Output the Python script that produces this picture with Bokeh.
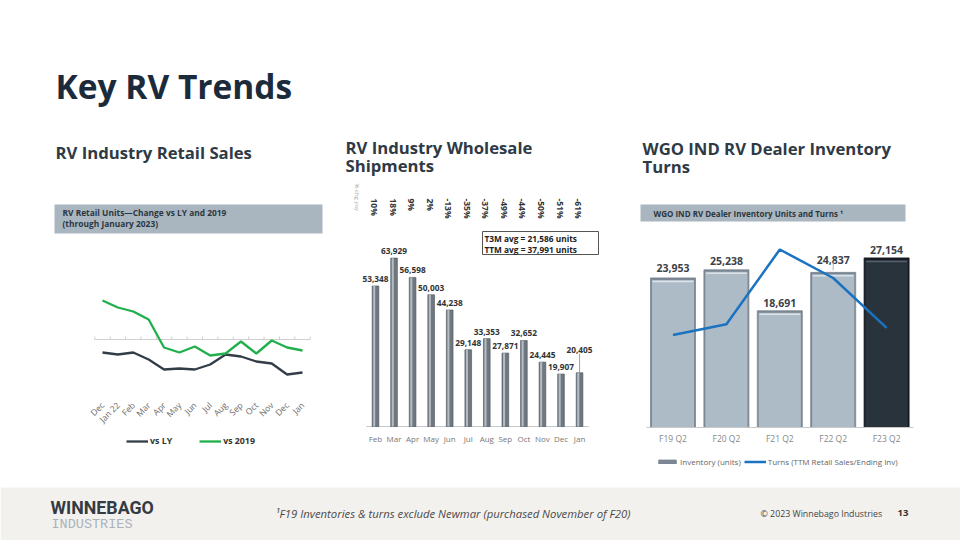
import math
from bokeh.plotting import figure
from bokeh.models import Range1d, FixedTicker, Legend, LegendItem, ColumnDataSource, LinearAxis
from bokeh.core.properties import value
from bokeh.embed import file_html
from bokeh.resources import INLINE
from bokeh.transform import dodge

FONT = "Open Sans"

# ---------------- data ----------------
retail_months = ["Dec", "Jan 22", "Feb", "Mar", "Apr", "May", "Jun", "Jul", "Aug", "Sep", "Oct", "Nov", "Dec", "Jan"]
retail_vs_ly = [-13, -15, -13, -20, -30, -29, -30, -25, -15, -17, -22, -24, -35, -33]
retail_vs_2019 = [39, 32, 28, 20, -8, -13, -7, -16, -14, -2, -14, -1, -8, -11]

ship_months = ["Feb", "Mar", "Apr", "May", "Jun", "Jul", "Aug", "Sep", "Oct", "Nov", "Dec", "Jan"]
ship_units = [53348, 63929, 56598, 50003, 44238, 29148, 33353, 27871, 32652, 24445, 19907, 20405]
ship_pct_yoy = ["10%", "18%", "9%", "2%", "-13%", "-35%", "-37%", "-49%", "-44%", "-50%", "-51%", "-61%"]
ship_t3m_avg = 21586
ship_ttm_avg = 37991

inv_quarters = ["F19 Q2", "F20 Q2", "F21 Q2", "F22 Q2", "F23 Q2"]
inv_units = [23953, 25238, 18691, 24837, 27154]
inv_turns = [2.6, 2.9, 5.0, 4.2, 2.8]

# label placement (pixels, layout only)
ship_label_dy = [-4, -4, -4, -4, -4, -4, -4, -4, -4, -4, -4, -20]
inv_label_dy = [-6, -4.5, -3.5, -8.5, -4]

W, H = 960, 540
p = figure(width=W, height=H, x_range=Range1d(0, W), y_range=Range1d(H, 0),
           x_axis_type=None, y_axis_type=None, output_backend="svg", toolbar_location=None,
           min_border_left=0, min_border_right=0, min_border_top=0, min_border_bottom=0)
p.grid.grid_line_color = None
p.outline_line_color = None
p.background_fill_color = "white"
p.border_fill_color = "white"

# chart scales (pixel anchors -> data ranges)
C1_X0, C1_DX, C1_Y0 = 102, 15.385, 339          # retail chart: index 0 at x=102, zero line at y=339, 1px per %
C2_X0, C2_DX, C2_Y0, K2 = 375, 18.55, 426, 168.4 / 63929
C3_X0, C3_DX, C3_Y0, K3 = 672.5, 53.4, 427, 169.6 / 27154
KT = 35.6
p.extra_x_ranges = {
    "c1x": Range1d((0 - C1_X0) / C1_DX, (W - C1_X0) / C1_DX),
    "c2x": Range1d((0 - C2_X0) / C2_DX, (W - C2_X0) / C2_DX),
    "c3x": Range1d((0 - C3_X0) / C3_DX, (W - C3_X0) / C3_DX),
}
p.extra_y_ranges = {
    "c1y": Range1d(C1_Y0 - H, C1_Y0),
    "c2y": Range1d((C2_Y0 - H) / K2, C2_Y0 / K2),
    "c3y": Range1d((C3_Y0 - H) / K3, C3_Y0 / K3),
    "turns": Range1d((C3_Y0 - H) / KT, C3_Y0 / KT),
}


def txt(x, y, t, size, color="#333", style="normal", align="left", baseline="middle", font=FONT, **kw):
    p.text(x=x, y=y, text=t, text_font=value(font), text_font_size=size, text_font_style=style,
           text_color=color, text_align=align, text_baseline=baseline, **kw)


def cat_axis(rng, labels, loc, size, color, standoff, orient=None):
    ax = LinearAxis(x_range_name=rng, fixed_location=loc,
                    ticker=FixedTicker(ticks=list(range(len(labels)))),
                    major_label_overrides={i: lab for i, lab in enumerate(labels)})
    ax.axis_line_color = None
    ax.major_tick_line_color = None
    ax.minor_tick_line_color = None
    ax.major_tick_out = 0
    ax.major_tick_in = 0
    ax.minor_tick_out = 0
    ax.major_label_text_font = FONT
    ax.major_label_text_font_size = size
    ax.major_label_text_color = color
    ax.major_label_standoff = standoff
    if orient is not None:
        ax.major_label_orientation = orient
    p.add_layout(ax, "below")


# ---------------- header ----------------
txt([55], [85], ["Key RV Trends"], "33.5px", "#1c2b3b", "bold")
txt([55, 345, 345, 642, 642], [152, 147, 165, 147.5, 165.5],
    ["RV Industry Retail Sales", "RV Industry Wholesale", "Shipments", "WGO IND RV Dealer Inventory", "Turns"],
    "16.7px", "#2e3a45", "bold")

# ---------------- chart 1: retail line ----------------
p.quad(left=[54], right=[322], top=[204], bottom=[233], fill_color="#a9b6bf", line_color=None)
txt([62, 62], [212.3, 222.8], ["RV Retail Units\u2014Change vs LY and 2019", "(through January 2023)"],
    "8.4px", "#2b3742", "bold")
n1 = len(retail_months)
xs1 = list(range(n1))
p.segment(x0=[-0.5], y0=[0], x1=[n1 - 0.5], y1=[0], line_color="#cfcfcf", line_width=1,
          x_range_name="c1x", y_range_name="c1y")
bx = [i - 0.5 for i in range(n1 + 1)]
p.segment(x0=bx, y0=[0] * len(bx), x1=bx, y1=[3] * len(bx), line_color="#cfcfcf", line_width=1,
          x_range_name="c1x", y_range_name="c1y")
r_ly = p.line(xs1, retail_vs_ly, line_color="#333d47", line_width=2.3, x_range_name="c1x", y_range_name="c1y")
r_19 = p.line(xs1, retail_vs_2019, line_color="#1fb04b", line_width=2.3, x_range_name="c1x", y_range_name="c1y")
cat_axis("c1x", retail_months, 401, "8.5px", "#6b6b6b", 2, math.pi / 4)
leg1 = Legend(items=[LegendItem(label="vs LY", renderers=[r_ly]), LegendItem(label="vs 2019", renderers=[r_19])],
              orientation="horizontal", location=(126, 93), label_text_font=FONT, label_text_font_size="8.8px",
              label_text_font_style="bold", label_text_color="#333", glyph_width=22, glyph_height=10,
              spacing=27, border_line_color=None, background_fill_alpha=0, margin=0, padding=2,
              label_standoff=2)
p.add_layout(leg1)

# ---------------- chart 2: wholesale shipments ----------------
n2 = len(ship_months)
xs2 = list(range(n2))
src2 = ColumnDataSource(dict(x=xs2, top=ship_units, lab=[f"{v:,}" for v in ship_units], dy=ship_label_dy))
p.segment(x0=[-0.5], y0=[0], x1=[n2 - 0.5], y1=[0], line_color="#c8c8c8", line_width=1,
          x_range_name="c2x", y_range_name="c2y")
p.vbar(x="x", top="top", bottom=0, width=0.36, source=src2, fill_color="#6f7880", line_color="#4a525a",
       line_width=0.6, x_range_name="c2x", y_range_name="c2y")
p.vbar(x=dodge("x", -0.07, range=p.extra_x_ranges["c2x"]), top="top", bottom=0, width=0.11, source=src2,
       fill_color="#b5bcc2", line_color=None, x_range_name="c2x", y_range_name="c2y")
p.text(x="x", y="top", text="lab", y_offset="dy", source=src2, text_font=value(FONT), text_font_style="bold",
       text_font_size="8.3px", text_color="#333", text_align="center", text_baseline="bottom",
       x_range_name="c2x", y_range_name="c2y")
p.segment(x0=[xs2[-1]], y0=[ship_units[-1]], x1=[xs2[-1]], y1=[ship_units[-1] + 19 / K2],
          line_color="#8a8a8a", line_width=0.8, x_range_name="c2x", y_range_name="c2y")
pct_x = [C2_X0 + C2_DX * i - 1 for i in xs2]
txt(pct_x, [198] * n2, ship_pct_yoy, "8.5px", "#333", "bold", angle=-math.pi / 2)
txt([356], [183], ["% chg yoy"], "6px", "#aaaaaa", angle=-math.pi / 2)
p.quad(left=[482], right=[598], top=[231], bottom=[254], fill_color="white", line_color="#555", line_width=1)
txt([484, 484], [237.5, 248.5], [f"T3M avg = {ship_t3m_avg:,} units", f"TTM avg = {ship_ttm_avg:,} units"],
    "8.3px", "#222", "bold")
cat_axis("c2x", ship_months, 426, "8px", "#777", 6)

# ---------------- chart 3: dealer inventory & turns ----------------
n3 = len(inv_quarters)
xs3 = list(range(n3))
outer = ["#7b8792"] * (n3 - 1) + ["#161c21"]
inner = ["#adbbc7"] * (n3 - 1) + ["#29333c"]
shine = ["#dbe3e9"] * (n3 - 1) + ["#56616b"]
src3 = ColumnDataSource(dict(x=xs3, top=inv_units, lab=[f"{v:,}" for v in inv_units], dy=inv_label_dy,
                             outer=outer, inner=inner, shine=shine,
                             top_in=[v - 2 / K3 for v in inv_units],
                             y_sh=[v - 3.5 / K3 for v in inv_units],
                             x_l=[i - 0.38 for i in xs3], x_r=[i + 0.38 for i in xs3]))
p.quad(left=[640], right=[905], top=[204], bottom=[221], fill_color="#a9b6bf", line_color=None)
txt([653], [212.5], ["WGO IND RV Dealer Inventory Units and Turns \u00b9"], "8px", "#2b3640", "bold")
r_bar = p.vbar(x="x", top="top", bottom=0, width=0.843, source=src3, fill_color="outer", line_color="outer",
               line_width=0.8, x_range_name="c3x", y_range_name="c3y")
p.vbar(x="x", top="top_in", bottom=0, width=0.79, source=src3, fill_color="inner", line_color=None,
       x_range_name="c3x", y_range_name="c3y")
p.segment(x0="x_l", y0="y_sh", x1="x_r", y1="y_sh", source=src3, line_color="shine", line_width=1.5,
          x_range_name="c3x", y_range_name="c3y")
p.segment(x0=[-0.5], y0=[0], x1=[n3 - 0.5], y1=[0], line_color="#c8c8c8", line_width=1,
          x_range_name="c3x", y_range_name="c3y")
r_turn = p.line(xs3, inv_turns, line_color="#1b72c0", line_width=2.5, x_range_name="c3x", y_range_name="turns")
p.text(x="x", y="top", text="lab", y_offset="dy", source=src3, text_font=value(FONT), text_font_style="bold",
       text_font_size="10.5px", text_color="#3b4249", text_align="center", text_baseline="bottom",
       x_range_name="c3x", y_range_name="c3y")
p.segment(x0=[xs3[3]], y0=[inv_units[3] + 2 / K3], x1=[xs3[3]], y1=[inv_units[3] + 10 / K3],
          line_color="#b0b0b0", line_width=1, x_range_name="c3x", y_range_name="c3y")
cat_axis("c3x", inv_quarters, 427, "8.5px", "#888", 5)
leg3 = Legend(items=[LegendItem(label="Inventory (units)", renderers=[r_bar]),
                     LegendItem(label="Turns (TTM Retail Sales/Ending Inv)", renderers=[r_turn])],
              orientation="horizontal", location=(656, 73), label_text_font=FONT, label_text_font_size="8px",
              label_text_color="#666", glyph_width=22, glyph_height=5, spacing=3, border_line_color=None,
              background_fill_alpha=0, margin=0, padding=2, label_standoff=2)
p.add_layout(leg3)

# ---------------- footer ----------------
p.quad(left=[0], right=[W], top=[487], bottom=[H], fill_color="#f3f1ee", line_color=None)
txt([50], [507], ["WINNEBAGO"], "17.8px", "#343b42", "bold", font="Roboto")
txt([51], [524], ["INDUSTRIES"], "13.5px", "#aab3ba", font="Liberation Mono")
txt([275], [513], ["\u00b9F19 Inventories & turns exclude Newmar (purchased November of F20)"],
    "11.3px", "#4a4a4a", "italic")
txt([760], [513], ["\u00a9 2023 Winnebago Industries"], "8.8px", "#444")
txt([897], [512.5], ["13"], "9.5px", "#333", "bold")

open("out.html", "w").write(file_html(p, INLINE))
